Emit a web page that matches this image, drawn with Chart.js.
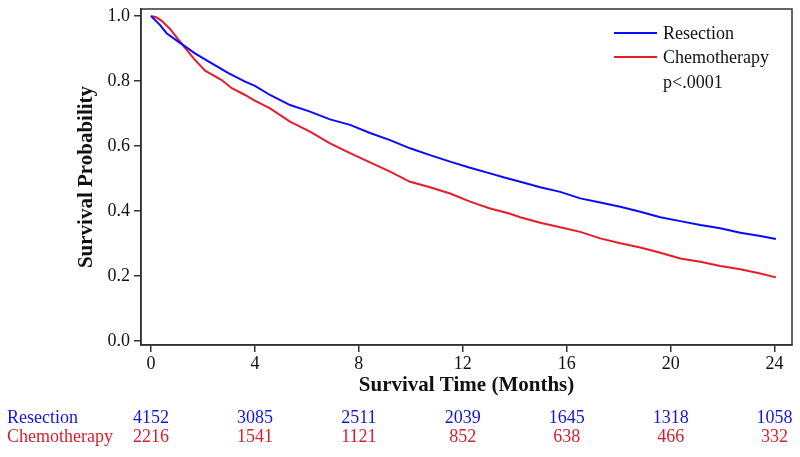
<!DOCTYPE html>
<html>
<head>
<meta charset="utf-8">
<script src="https://cdn.jsdelivr.net/npm/chart.js@4"></script>
<style>
  html, body { margin: 0; padding: 0; background: #fff; }
  #wrap { width: 800px; height: 457px; }
</style>
</head>
<body>
<div id="wrap"><canvas id="myChart"></canvas></div>
<script>
// survival curves (months, probability)
var resTime = [0, 0.35, 0.6, 1.05, 1.69, 2.34, 2.98, 3.62, 4.0, 4.58, 5.35, 6.12, 6.89, 7.66, 8.43, 9.2, 9.97, 10.74, 11.51, 12.28, 13.05, 13.6, 14.21, 14.98, 15.75, 16.52, 17.29, 18.06, 18.83, 19.6, 20.37, 21.14, 21.91, 22.68, 23.45, 24.05];
var resSurv = [1.0, 0.972, 0.947, 0.921, 0.885, 0.854, 0.824, 0.798, 0.785, 0.757, 0.726, 0.706, 0.682, 0.665, 0.640, 0.618, 0.593, 0.572, 0.552, 0.533, 0.516, 0.503, 0.490, 0.473, 0.459, 0.439, 0.426, 0.413, 0.398, 0.381, 0.369, 0.357, 0.347, 0.333, 0.323, 0.314];
var chemoTime = [0, 0.2, 0.41, 0.73, 1.05, 1.3, 1.69, 2.08, 2.72, 3.11, 3.62, 3.94, 4.58, 5.35, 6.12, 6.89, 7.66, 8.43, 9.2, 9.97, 10.74, 11.51, 12.28, 13.05, 13.76, 14.21, 14.98, 15.75, 16.52, 17.29, 18.06, 18.83, 19.6, 20.37, 21.14, 21.91, 22.68, 23.45, 24.05];
var chemoSurv = [1.0, 0.996, 0.985, 0.960, 0.928, 0.903, 0.865, 0.832, 0.803, 0.778, 0.757, 0.742, 0.716, 0.675, 0.644, 0.608, 0.578, 0.550, 0.521, 0.490, 0.473, 0.454, 0.429, 0.408, 0.393, 0.381, 0.364, 0.350, 0.336, 0.316, 0.301, 0.288, 0.272, 0.254, 0.244, 0.231, 0.221, 0.208, 0.196];

var xTicks = [0, 4, 8, 12, 16, 20, 24];
var yTicks = [0, 0.2, 0.4, 0.6, 0.8, 1.0];

// numbers at risk
var riskGroups = ['Resection', 'Chemotherapy'];
var riskTimes = [0, 4, 8, 12, 16, 20, 24];
var resAtRisk = [4152, 3085, 2511, 2039, 1645, 1318, 1058];
var chemoAtRisk = [2216, 1541, 1121, 852, 638, 466, 332];
var pValueText = 'p<.0001';

var blue = 'rgb(10,10,255)';
var red = 'rgb(232,28,40)';
var blueText = 'rgb(20,20,220)';
var redText = 'rgb(215,30,45)';
var FONT = '"Liberation Serif", "Times New Roman", serif';

function toPoints(t, s) {
  var pts = [];
  for (var i = 0; i < t.length; i++) pts.push({ x: t[i], y: s[i] });
  return pts;
}

var extras = {
  id: 'extras',
  afterDraw: function (chart) {
    var c = chart.ctx;
    var a = chart.chartArea;
    var xs = chart.scales.x;
    c.save();
    // frame
    c.strokeStyle = '#333';
    c.lineWidth = 1.5;
    c.strokeRect(a.left, a.top, a.right - a.left, a.bottom - a.top);

    // legend inside plot
    var items = [[riskGroups[0], blue], [riskGroups[1], red]];
    c.font = '18px ' + FONT;
    c.textBaseline = 'middle';
    c.textAlign = 'left';
    for (var i = 0; i < items.length; i++) {
      var ly = 33 + i * 24;
      c.strokeStyle = items[i][1];
      c.lineWidth = 2;
      c.beginPath();
      c.moveTo(614, ly);
      c.lineTo(657, ly);
      c.stroke();
      c.fillStyle = '#111';
      c.fillText(items[i][0], 663, ly + 1);
    }
    c.fillText(pValueText, 663, 83);

    // number at risk table
    var rows = [[resAtRisk, blueText, 418], [chemoAtRisk, redText, 437]];
    for (var r = 0; r < rows.length; r++) {
      c.fillStyle = rows[r][1];
      c.textAlign = 'left';
      c.fillText(riskGroups[r], 7, rows[r][2]);
      c.textAlign = 'center';
      for (var k = 0; k < riskTimes.length; k++) {
        c.fillText(String(rows[r][0][k]), xs.getPixelForValue(riskTimes[k]), rows[r][2]);
      }
    }
    c.restore();
  }
};

var ctx = document.getElementById('myChart').getContext('2d');
var myChart = new Chart(ctx, {
  type: 'line',
  data: {
    datasets: [{
      label: riskGroups[0],
      data: toPoints(resTime, resSurv),
      borderColor: blue,
      borderWidth: 2,
      pointRadius: 0,
      tension: 0
    }, {
      label: riskGroups[1],
      data: toPoints(chemoTime, chemoSurv),
      borderColor: red,
      borderWidth: 2,
      pointRadius: 0,
      tension: 0
    }]
  },
  options: {
    responsive: true,
    maintainAspectRatio: false,
    animation: false,
    layout: { padding: { top: 9, right: 8, bottom: 59, left: 0 } },
    plugins: {
      legend: { display: false },
      tooltip: { enabled: false }
    },
    scales: {
      x: {
        type: 'linear',
        min: -0.385,
        max: 24.67,
        afterBuildTicks: function (s) { s.ticks = xTicks.map(function (v) { return { value: v }; }); },
        afterFit: function (s) { s.height = 53; s.paddingLeft = 0; s.paddingRight = 0; },
        grid: { drawOnChartArea: false, tickLength: 7, color: '#333', lineWidth: 1.5 },
        border: { color: '#333', width: 1.5 },
        ticks: { color: '#111', font: { family: FONT, size: 18 }, padding: 1, maxRotation: 0 },
        title: { display: true, text: 'Survival Time (Months)', color: '#111', font: { family: FONT, size: 21, weight: 'bold' }, padding: { top: 3, bottom: 0 } }
      },
      y: {
        min: -0.012,
        max: 1.0215,
        afterBuildTicks: function (s) { s.ticks = yTicks.map(function (v) { return { value: v }; }); },
        afterFit: function (s) { s.width = 141; s.paddingTop = 0; s.paddingBottom = 0; },
        grid: { drawOnChartArea: false, tickLength: 7, color: '#333', lineWidth: 1.5 },
        border: { color: '#333', width: 1.5 },
        ticks: { color: '#111', font: { family: FONT, size: 18 }, padding: 4, callback: function (v) { return v.toFixed(1); } },
        title: { display: true, text: 'Survival Probability', color: '#111', font: { family: FONT, size: 21, weight: 'bold' }, padding: { top: 74, bottom: 0 } }
      }
    }
  },
  plugins: [extras]
});
</script>
</body>
</html>
